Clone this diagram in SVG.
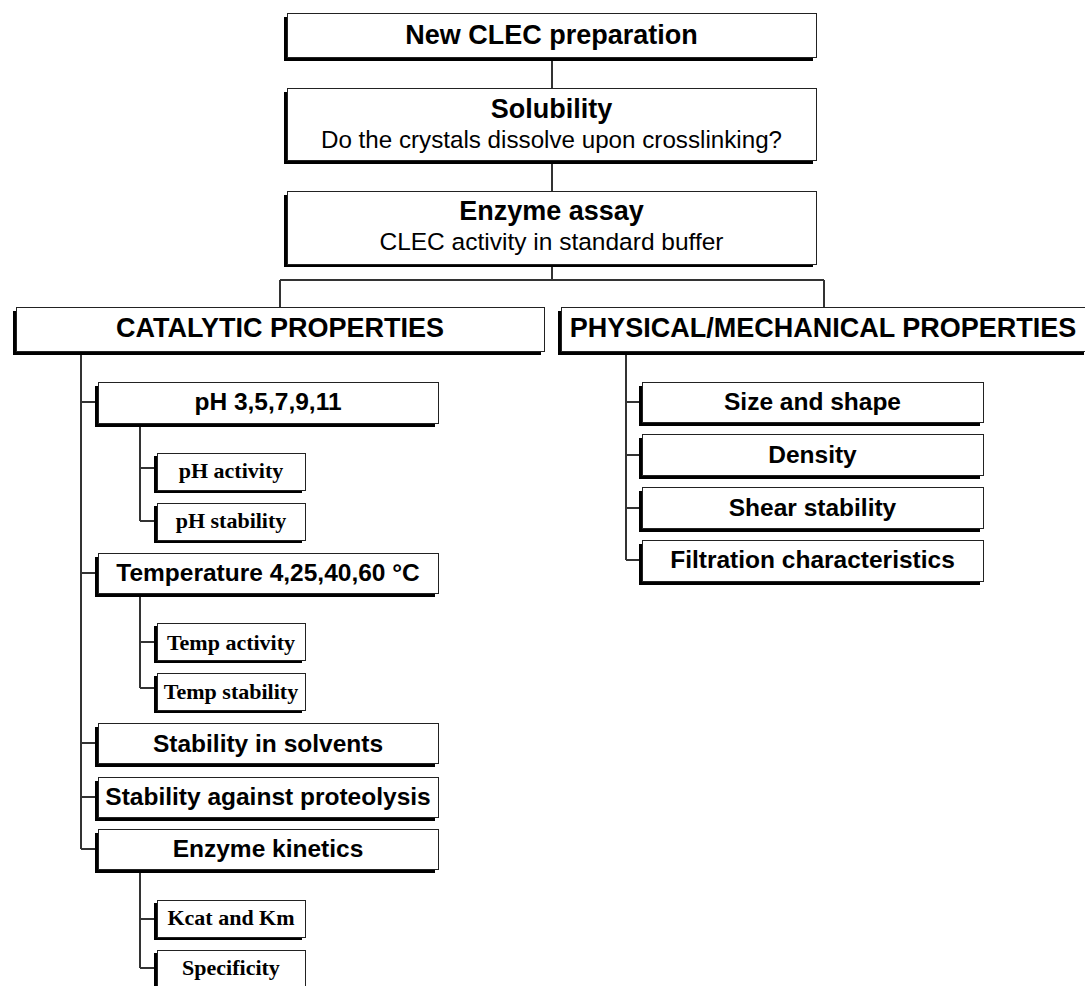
<svg xmlns="http://www.w3.org/2000/svg" width="1085" height="986" viewBox="0 0 1085 986">
<style>
.sh{fill:#000;}
.bx{fill:#fff;stroke:#222;stroke-width:1;shape-rendering:crispEdges;}
.cn{fill:none;stroke:#333;stroke-width:1.2;shape-rendering:crispEdges;}
.t{font-family:"Liberation Sans",Arial,sans-serif;font-weight:bold;text-anchor:middle;fill:#000;}
.r{font-family:"Liberation Sans",Arial,sans-serif;font-weight:normal;text-anchor:middle;fill:#000;}
.s{font-family:"Liberation Serif","Times New Roman",serif;font-weight:bold;text-anchor:middle;fill:#000;font-size:22px;}
.big{font-size:27px;}
.mid{font-size:24.5px;}
</style>
<rect width="1085" height="986" fill="#fff"/>
<g id="connectors">
<path class="cn" d="M552,57V88M552,160V191M552,264V280M280,280H824M280,280V307M824,280V307"/>
<path class="cn" d="M81,351V849M81,402H98M81,573H98M81,743H98M81,797H98M81,849H98"/>
<path class="cn" d="M140,423V521M140,468H157M140,521H157"/>
<path class="cn" d="M140,593V688M140,642H157M140,688H157"/>
<path class="cn" d="M140,869V968M140,919H157M140,968H157"/>
<path class="cn" d="M626,351V560M626,402H642M626,455H642M626,508H642M626,560H642"/>
</g>
<g id="n-new">
<rect class="sh" x="284" y="17" width="529" height="44"/>
<rect class="bx" x="287" y="13" width="529" height="44"/>
<text class="t big" x="551.5" y="44">New CLEC preparation</text>
</g>
<g id="n-solubility">
<rect class="sh" x="284" y="92" width="529" height="72"/>
<rect class="bx" x="287" y="88" width="529" height="72"/>
<text class="t big" x="551.5" y="118">Solubility</text>
<text class="r" style="font-size:24.2px" x="551.5" y="148">Do the crystals dissolve upon crosslinking?</text>
</g>
<g id="n-assay">
<rect class="sh" x="284" y="195" width="529" height="72"/>
<rect class="bx" x="287" y="191" width="529" height="73"/>
<text class="t big" x="551.5" y="220">Enzyme assay</text>
<text class="r" style="font-size:24.5px" x="551.5" y="250">CLEC activity in standard buffer</text>
</g>
<g id="n-catalytic">
<rect class="sh" x="13" y="311" width="528" height="44"/>
<rect class="bx" x="16" y="307" width="528" height="44"/>
<text class="t big" x="280" y="337">CATALYTIC PROPERTIES</text>
</g>
<g id="n-physical">
<rect class="sh" x="558" y="311" width="526" height="44"/>
<rect class="bx" x="561" y="307" width="526" height="44"/>
<text class="t big" x="823" y="337">PHYSICAL/MECHANICAL PROPERTIES</text>
</g>
<g id="n-ph">
<rect class="sh" x="95" y="386" width="340" height="41"/>
<rect class="bx" x="98" y="382" width="340" height="41"/>
<text class="t mid" x="268" y="410">pH 3,5,7,9,11</text>
</g>
<g id="n-ph-activity">
<rect class="sh" x="154" y="456" width="148" height="37"/>
<rect class="bx" x="157" y="453" width="148" height="37"/>
<text class="s" x="231" y="478">pH activity</text>
</g>
<g id="n-ph-stability">
<rect class="sh" x="154" y="506" width="148" height="37"/>
<rect class="bx" x="157" y="503" width="148" height="37"/>
<text class="s" x="231" y="528">pH stability</text>
</g>
<g id="n-temp">
<rect class="sh" x="95" y="557" width="340" height="40"/>
<rect class="bx" x="98" y="553" width="340" height="40"/>
<text class="t mid" x="268" y="581">Temperature 4,25,40,60 °C</text>
</g>
<g id="n-temp-activity">
<rect class="sh" x="154" y="626" width="148" height="37"/>
<rect class="bx" x="157" y="623" width="148" height="37"/>
<text class="s" x="231" y="650">Temp activity</text>
</g>
<g id="n-temp-stability">
<rect class="sh" x="154" y="676" width="148" height="37"/>
<rect class="bx" x="157" y="673" width="148" height="37"/>
<text class="s" x="231" y="699">Temp stability</text>
</g>
<g id="n-solvents">
<rect class="sh" x="95" y="727" width="340" height="40"/>
<rect class="bx" x="98" y="723" width="340" height="40"/>
<text class="t mid" x="268" y="752">Stability in solvents</text>
</g>
<g id="n-proteolysis">
<rect class="sh" x="95" y="781" width="340" height="40"/>
<rect class="bx" x="98" y="777" width="340" height="40"/>
<text class="t mid" x="268" y="805">Stability against proteolysis</text>
</g>
<g id="n-kinetics">
<rect class="sh" x="95" y="833" width="340" height="40"/>
<rect class="bx" x="98" y="829" width="340" height="40"/>
<text class="t mid" x="268" y="857">Enzyme kinetics</text>
</g>
<g id="n-kcat">
<rect class="sh" x="154" y="903" width="148" height="37"/>
<rect class="bx" x="157" y="900" width="148" height="37"/>
<text class="s" x="231" y="925">Kcat and Km</text>
</g>
<g id="n-specificity">
<rect class="sh" x="154" y="953" width="148" height="37"/>
<rect class="bx" x="157" y="950" width="148" height="37"/>
<text class="s" x="231" y="975">Specificity</text>
</g>
<g id="n-size">
<rect class="sh" x="639" y="386" width="341" height="40"/>
<rect class="bx" x="642" y="382" width="341" height="40"/>
<text class="t mid" x="812.5" y="410">Size and shape</text>
</g>
<g id="n-density">
<rect class="sh" x="639" y="438" width="341" height="41"/>
<rect class="bx" x="642" y="434" width="341" height="41"/>
<text class="t mid" x="812.5" y="463">Density</text>
</g>
<g id="n-shear">
<rect class="sh" x="639" y="491" width="341" height="41"/>
<rect class="bx" x="642" y="487" width="341" height="41"/>
<text class="t mid" x="812.5" y="516">Shear stability</text>
</g>
<g id="n-filtration">
<rect class="sh" x="639" y="544" width="341" height="41"/>
<rect class="bx" x="642" y="540" width="341" height="41"/>
<text class="t mid" x="812.5" y="568">Filtration characteristics</text>
</g>
</svg>
